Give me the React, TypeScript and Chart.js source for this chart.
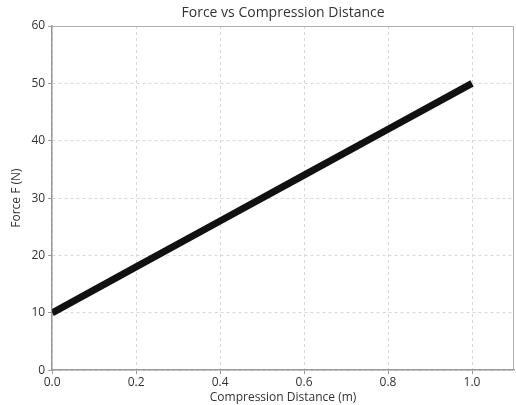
import React, { useEffect, useRef } from "react";
import { Chart, registerables } from "chart.js";

Chart.register(...registerables);

const distances = [0.0, 0.2, 0.4, 0.6, 0.8, 1.0];
const forces = [10, 18, 26, 34, 42, 50];
const titleText = "Force vs Compression Distance";
const xTitle = "Compression Distance (m)";
const yTitle = "Force F (N)";

const FONT = "'Open Sans', Lato, sans-serif";

const framePlugin = {
  id: "frame",
  afterDraw(chart: any) {
    const { ctx, chartArea } = chart;
    ctx.save();
    ctx.strokeStyle = "#b0b0b0";
    ctx.lineWidth = 1;
    ctx.beginPath();
    ctx.moveTo(chartArea.left, chartArea.top + 0.5);
    ctx.lineTo(chartArea.right - 0.5, chartArea.top + 0.5);
    ctx.lineTo(chartArea.right - 0.5, chartArea.bottom);
    ctx.stroke();
    // title centred over the plot area
    ctx.fillStyle = "#333333";
    ctx.font = `14px ${FONT}`;
    ctx.textAlign = "center";
    ctx.textBaseline = "middle";
    ctx.fillText(titleText, (chartArea.left + chartArea.right) / 2, 13);
    ctx.restore();
  },
};

export default function App() {
  const ref = useRef<HTMLCanvasElement | null>(null);
  useEffect(() => {
    if (!ref.current) return;
    const chart = new Chart(ref.current, {
      type: "line",
      data: {
        datasets: [
          {
            data: distances.map((d, i) => ({ x: d, y: forces[i] })),
            borderColor: "#111111",
            borderWidth: 7,
            pointRadius: 0,
            fill: false,
            tension: 0,
          },
        ],
      },
      plugins: [framePlugin],
      options: {
        animation: false,
        responsive: false,
        layout: { padding: { top: 26, right: 2, bottom: 0, left: 9 } },
        plugins: {
          legend: { display: false },
          tooltip: { enabled: false },
          title: { display: false },
        },
        scales: {
          x: {
            type: "linear",
            min: 0,
            max: 1.1,
            afterBuildTicks: (axis: any) => {
              axis.ticks = axis.ticks.filter((t: any) => t.value <= 1.0001);
            },
            ticks: {
              stepSize: 0.2,
              color: "#333333",
              font: { family: FONT, size: 12 },
              padding: 1,
              maxRotation: 0,
              callback: (v: any) => Number(v).toFixed(1),
            },
            grid: {
              color: "#d8d8d8",
              tickBorderDash: [],
              tickColor: "#999999",
              tickLength: 4,
            },
            border: { display: true, color: "#999999", width: 1.5, dash: [3, 3] },
            title: {
              display: true,
              text: xTitle,
              color: "#333333",
              font: { family: FONT, size: 12 },
              padding: { top: 0, bottom: 0 },
            },
          },
          y: {
            type: "linear",
            min: 0,
            max: 60,
            ticks: {
              stepSize: 10,
              color: "#333333",
              font: { family: FONT, size: 12 },
              padding: 3,
            },
            grid: {
              color: "#d8d8d8",
              tickBorderDash: [],
              tickColor: "#999999",
              tickLength: 4,
            },
            border: { display: true, color: "#999999", width: 1.5, dash: [3, 3] },
            title: {
              display: true,
              text: yTitle,
              color: "#333333",
              font: { family: FONT, size: 12 },
              padding: { top: 0, bottom: 5 },
            },
          },
        },
      },
    });
    return () => chart.destroy();
  }, []);
  return (
    <div style={{ position: "absolute", left: 0, top: 0, width: 516, height: 405, background: "#fff" }}>
      <canvas ref={ref} width={516} height={405} style={{ width: 516, height: 405 }} />
    </div>
  );
}
